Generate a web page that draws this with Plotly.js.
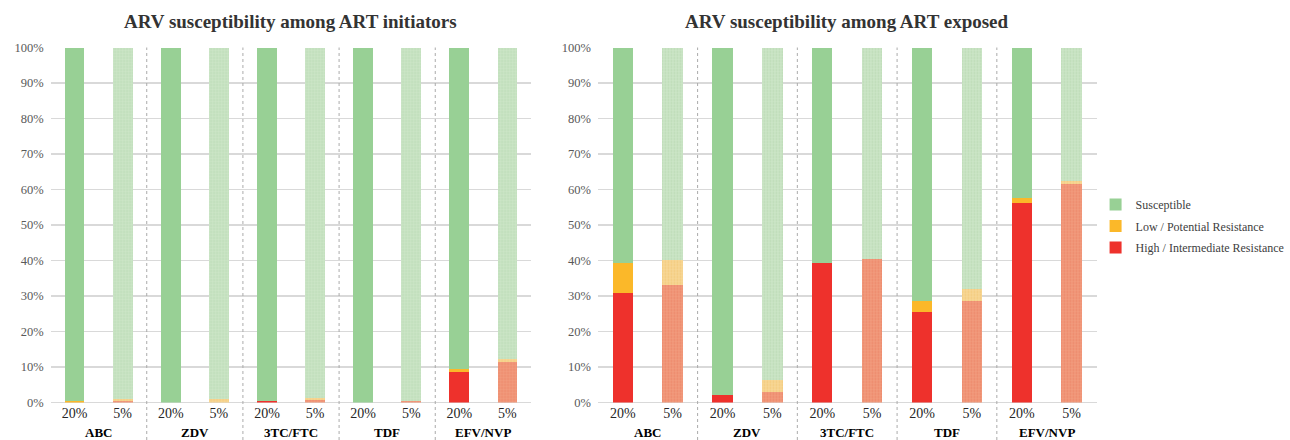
<!DOCTYPE html>
<html>
<head>
<meta charset="utf-8">
<script src="https://cdn.plot.ly/plotly-3.0.1.min.js"></script>
<style>html,body{margin:0;padding:0;background:#fff;}#chart{width:1290px;height:440px;}</style>
</head>
<body>
<div id="chart"></div>
<script>
// ---- data ----
const drugs = ["ABC", "ZDV", "3TC/FTC", "TDF", "EFV/NVP"];
const levels = ["20%", "5%"];
const statuses = ["High / Intermediate Resistance", "Low / Potential Resistance", "Susceptible"];
const panelTitles = ["ARV susceptibility among ART initiators", "ARV susceptibility among ART exposed"];
const yTickVals = [0, 10, 20, 30, 40, 50, 60, 70, 80, 90, 100];
const yTickText = ["0%", "10%", "20%", "30%", "40%", "50%", "60%", "70%", "80%", "90%", "100%"];

// order per drug: [20%, 5%]
const initiatorsHigh = [0.0, 0.3, 0.0, 0.0, 0.5, 0.8, 0.0, 0.3, 8.7, 11.5];
const initiatorsLow  = [0.4, 0.7, 0.0, 0.9, 0.0, 0.4, 0.0, 0.2, 0.8, 0.7];
const exposedHigh    = [30.9, 33.0, 2.1, 3.1, 39.4, 40.3, 25.5, 28.6, 56.1, 61.6];
const exposedLow     = [8.5, 7.2, 0.0, 3.2, 0.0, 0.2, 3.1, 3.3, 1.5, 0.8];

const initiatorsSusc = initiatorsHigh.map((h, i) => 100 - h - initiatorsLow[i]);
const exposedSusc = exposedHigh.map((h, i) => 100 - h - exposedLow[i]);

// ---- styling ----
const darkColors  = {"High / Intermediate Resistance": "#EE312C", "Low / Potential Resistance": "#FBB829", "Susceptible": "#98D095"};
const lightColors = {"High / Intermediate Resistance": "#F29C7E", "Low / Potential Resistance": "#F8D896", "Susceptible": "#CDE6C8"};
const patFg       = {"High / Intermediate Resistance": "#EC8668", "Low / Potential Resistance": "#F2C97A", "Susceptible": "#BADAB4"};
const legendRank  = {"High / Intermediate Resistance": 3, "Low / Potential Resistance": 2, "Susceptible": 1};
const serif = "Liberation Serif";

const xIdx = [];
const isLight = [];
drugs.forEach((d, i) => levels.forEach((l, j) => { xIdx.push(i * levels.length + j); isLight.push(j === 1); }));

const panels = [
  {high: initiatorsHigh, low: initiatorsLow, susc: initiatorsSusc, xa: "x", ya: "y"},
  {high: exposedHigh, low: exposedLow, susc: exposedSusc, xa: "x2", ya: "y2"}
];

const traces = [];
panels.forEach((p, pi) => {
  const vals = {"High / Intermediate Resistance": p.high, "Low / Potential Resistance": p.low, "Susceptible": p.susc};
  statuses.forEach(s => {
    [false, true].forEach(light => {
      const keep = xIdx.map((x, k) => isLight[k] === light);
      const tr = {
        type: "bar",
        name: s,
        x: xIdx.filter((x, k) => keep[k]),
        y: vals[s].filter((v, k) => keep[k]),
        xaxis: p.xa,
        yaxis: p.ya,
        showlegend: pi === 1 && !light,
        legendgroup: s,
        legendrank: legendRank[s],
        hoverinfo: "skip",
        marker: {color: light ? lightColors[s] : darkColors[s], line: {width: 0}}
      };
      if (light) {
        tr.marker.pattern = {shape: ".", fillmode: "replace", bgcolor: lightColors[s], fgcolor: patFg[s],
          fgopacity: 1, size: 3, solidity: 0.35};
      }
      traces.push(tr);
    });
  });
});

const nCat = xIdx.length;
const domains = [[51 / 1290, 536 / 1290], [603 / 1290, 1106 / 1290]];
const yDom = [1 - 402.5 / 440, 1 - 47.5 / 440];

function xAxis(dom) {
  return {
    domain: dom, range: [-0.5, nCat - 0.5], type: "linear",
    tickvals: xIdx, ticktext: xIdx.map(i => levels[i % levels.length]),
    showgrid: false, zeroline: false, showline: false, ticks: "",
    tickfont: {family: serif, size: 14, color: "#262626"}, fixedrange: true
  };
}
function yAxis(anchor) {
  return {
    domain: yDom, range: [0, 100], anchor: anchor,
    tickmode: "array", tickvals: yTickVals, ticktext: yTickText,
    showgrid: true, gridcolor: "#D9D9D9", gridwidth: 1.3,
    zeroline: true, zerolinecolor: "#D9D9D9", zerolinewidth: 1.3,
    showline: false, ticks: "", ticklabelstandoff: 6,
    tickfont: {family: serif, size: 12.5, color: "#595959"}, fixedrange: true
  };
}

const shapes = [];
const annotations = [];
["x", "x2"].forEach((xa, pi) => {
  for (let i = 1; i < drugs.length; i++) {
    const xv = i * levels.length - 0.5;
    shapes.push({type: "line", xref: xa, yref: "paper", x0: xv, x1: xv, y0: 0, y1: yDom[1],
      line: {color: "#ABABAB", width: 1, dash: "dot"}});
  }
  drugs.forEach((d, i) => {
    annotations.push({xref: xa, yref: "paper", x: i * levels.length + (levels.length - 1) / 2, y: 7.5 / 440,
      yanchor: "middle", xanchor: "center", showarrow: false, text: "<b>" + d + "</b>",
      font: {family: serif, size: 13, color: "#000"}});
  });
  annotations.push({xref: "paper", yref: "paper", x: (domains[pi][0] + domains[pi][1]) / 2, y: 1 - 21 / 440,
    xanchor: "center", yanchor: "middle", showarrow: false, text: "<b>" + panelTitles[pi] + "</b>",
    font: {family: serif, size: 19, color: "#333333"}});
});

const layout = {
  width: 1290, height: 440,
  margin: {l: 0, r: 0, t: 0, b: 0},
  paper_bgcolor: "#fff", plot_bgcolor: "#fff",
  barmode: "stack", bargap: 0.59,
  xaxis: xAxis(domains[0]), yaxis: yAxis("x"),
  xaxis2: xAxis(domains[1]), yaxis2: yAxis("x2"),
  shapes: shapes, annotations: annotations,
  showlegend: true,
  legend: {x: 1105 / 1290, y: 1 - 190 / 440, xanchor: "left", yanchor: "top", traceorder: "grouped",
    font: {family: serif, size: 12, color: "#404040"}, bgcolor: "rgba(0,0,0,0)", itemwidth: 30, tracegroupgap: 2.5}
};

Plotly.newPlot("chart", traces, layout, {staticPlot: true, displayModeBar: false});
</script>
</body>
</html>
